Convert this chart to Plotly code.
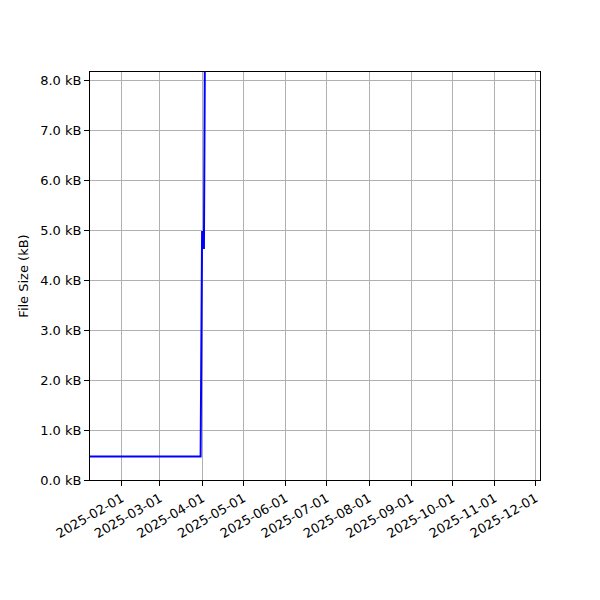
import plotly.graph_objects as go

dates = ["2025-01-08", "2025-02-15", "2025-03-30 18:00", "2025-03-31 20:00",
         "2025-04-01 10:00", "2025-04-02 04:00", "2025-04-03 12:00"]
size_kb = [0.47, 0.47, 0.47, 4.98, 4.92, 4.62, 12.0]

x_range = ["2025-01-08 19:00", "2025-12-04 03:30"]
y_range = [0, 8.16]

fig = go.Figure()
fig.add_trace(go.Scatter(x=dates, y=size_kb, mode="lines",
                         line=dict(color="blue", width=2), showlegend=False))

font = dict(family="DejaVu Sans", size=13, color="black")
fig.update_layout(
    width=600, height=600,
    margin=dict(l=82, r=68, t=64, b=128),
    plot_bgcolor="white", paper_bgcolor="white",
    font=font,
)
fig.update_xaxes(
    type="date", range=x_range, tick0="2025-02-01", dtick="M1",
    tickformat="%Y-%m-%d", tickangle=-30,
    showgrid=True, gridcolor="#b0b0b0", gridwidth=1,
    showline=True, linecolor="black", linewidth=1, mirror=True,
    ticks="outside", ticklen=5, tickcolor="black", zeroline=False,
)
fig.update_yaxes(
    range=y_range, dtick=1, tickformat=".1f", ticksuffix=" kB",
    title=dict(text="File Size (kB)", font=font, standoff=8),
    showgrid=True, gridcolor="#b0b0b0", gridwidth=1,
    showline=True, linecolor="black", linewidth=1, mirror=True,
    ticks="outside", ticklen=5, tickcolor="black", zeroline=False,
)
fig.write_html("out.html")
